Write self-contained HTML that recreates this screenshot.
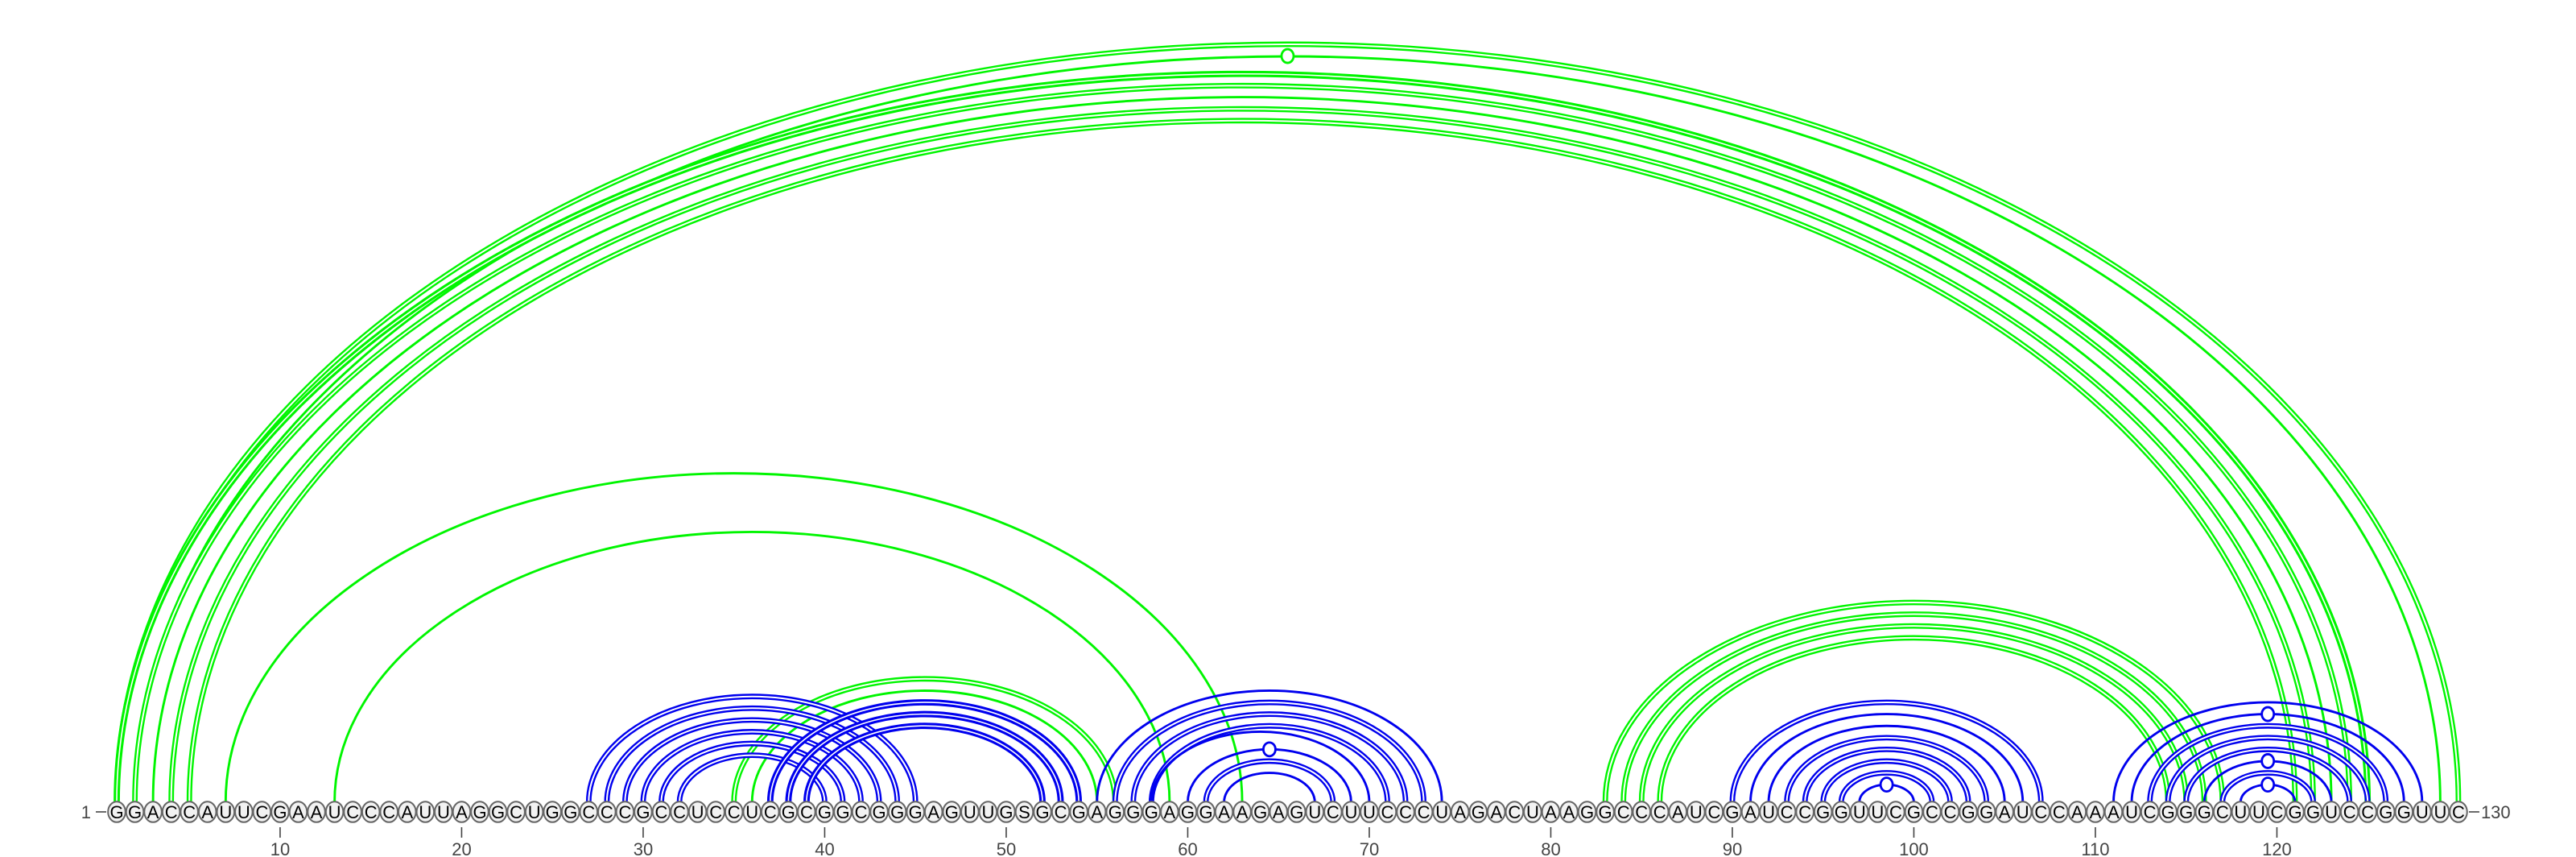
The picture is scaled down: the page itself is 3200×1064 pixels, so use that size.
<!DOCTYPE html>
<html><head><meta charset="utf-8"><style>
html,body{margin:0;padding:0;background:#fff;}
svg{display:block;font-family:"Liberation Sans",sans-serif;}
</style></head><body>
<svg id="chart" width="3200" height="1064" viewBox="0 0 3200 1064" xmlns="http://www.w3.org/2000/svg">
<g id="arcs"></g>
<g id="nodes"></g>
<g id="axis"></g>
</svg>
<script>
const sequence = "GGACCAUUCGAAUCCCAUUAGGCUGGCCCGCCUCCUCGCGGCGGGAGUUGSGCGAGGGAGGAAGAGUCUUCCCUAGACUAAGGCCCAUCGAUCCGGUUCGCCGGAUCCAAAUCGGGCUUCGGUCCGGUUC";
// green pairs: [i, j, style] style: 1 single, 2 double, 3 thick double
const greenPairs = [[1,130,2],[2,129,1],[1,125,3],[2,124,2],[3,123,1],[4,122,2],[5,121,2],
  [7,63,1],[13,59,1],[35,56,2],[36,55,1],[83,117,2],[84,116,2],[85,115,2],[86,114,2]];
const bluePairs = [[27,45,2],[28,44,2],[29,43,2],[30,42,2],[31,41,2],[32,40,2],
  [37,54,3],[38,53,3],[39,52,3],
  [55,74,1],[56,73,2],[57,72,2],[58,71,2],[58,70,1],[60,69,1],[61,68,2],[62,67,1],
  [90,107,2],[91,106,1],[92,105,1],[93,104,2],[94,103,2],[95,102,2],[96,101,2],[97,100,1],
  [111,128,1],[112,127,1],[113,126,2],[114,125,2],[115,124,2],[116,123,1],[117,122,2],[118,121,1]];
const markedPairs = [[2,129],[60,69],[97,100],[112,127],[116,123],[118,121]];
const tickValues = [10,20,30,40,50,60,70,80,90,100,110,120];

const NS="http://www.w3.org/2000/svg";
const X0=145, DX=22.55, BASE=996, CY=1008, K=0.3235;
function xPos(p){return X0+(p-1)*DX;}
function mk(tag,attrs,parent){const e=document.createElementNS(NS,tag);for(const k in attrs)e.setAttribute(k,attrs[k]);parent.appendChild(e);return e;}
const arcs=document.getElementById('arcs');
function drawArc(pair,color,kind){
  const x1=xPos(pair[0]),x2=xPos(pair[1]);
  const rx=(x2-x1)/2, ry=K*(x2-x1);
  const d=`M${x1},${BASE} A${rx},${ry} 0 0 1 ${x2},${BASE}`;
  const g=mk('g',{},arcs);
  
  
  if(pair[2]===1){mk('path',{d:d,fill:'none',stroke:color,'stroke-width':2.9},g);}
  else{
    const w=pair[2]===3?7.8:6.8;
    mk('path',{d:d,fill:'none',stroke:color,'stroke-width':w},g);
    mk('path',{d:d,fill:'none',stroke:'#fff','stroke-width':pair[2]===3?1.6:2.0},g);
  }
  let marked=markedPairs.some(m=>m[0]===pair[0]&&m[1]===pair[1]);
  if(marked){
    const c=mk('ellipse',{cx:(x1+x2)/2,cy:BASE-ry,rx:7.5,ry:8.5,fill:'#fff',stroke:color,'stroke-width':2.8},g);
    
    
  }
}
greenPairs.forEach(p=>drawArc(p,'#00f500','green'));
bluePairs.forEach(p=>drawArc(p,'#0000ee','blue'));

const nodes=document.getElementById('nodes');
for(let i=0;i<sequence.length;i++){
  const p=i+1, x=xPos(p);
  const g=mk('g',{},nodes);
  
  
  mk('ellipse',{cx:x,cy:CY,rx:10.8,ry:12.8,fill:'#f2f2f2',stroke:'#666','stroke-width':2},g);
  const t=mk('text',{x:x,y:CY+8,'text-anchor':'middle','font-size':22,fill:'#000'},g);
  t.textContent=sequence[i];
}
const axis=document.getElementById('axis');
tickValues.forEach(v=>{
  const x=xPos(v);
  const l=mk('line',{x1:x,y1:1027,x2:x,y2:1040,stroke:'#444','stroke-width':1.6},axis);
  
  
  const t=mk('text',{x:x,y:1062,'text-anchor':'middle','font-size':22,fill:'#444'},axis);
  
  
  t.textContent=v;
});
const sL=mk('text',{x:xPos(1)-32,y:CY+8,'text-anchor':'end','font-size':22,fill:'#444'},axis);


sL.textContent='1';
mk('line',{x1:xPos(1)-26,y1:CY,x2:xPos(1)-13,y2:CY,stroke:'#444','stroke-width':1.6},axis);
mk('line',{x1:xPos(130)+13,y1:CY,x2:xPos(130)+26,y2:CY,stroke:'#444','stroke-width':1.6},axis);
const eL=mk('text',{x:xPos(130)+28,y:CY+8,'text-anchor':'start','font-size':22,fill:'#444'},axis);


eL.textContent='130';
</script>
</body></html>
